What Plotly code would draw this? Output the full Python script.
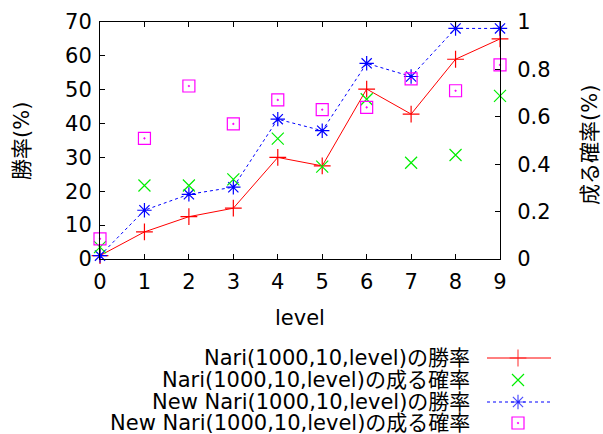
import plotly.graph_objects as go

# Data: win rate (%) and promotion probability per search level
levels = [0, 1, 2, 3, 4, 5, 6, 7, 8, 9]
nari_win = [1, 8, 12.5, 15, 30, 27.5, 50.2, 42.8, 59, 65]
nari_promote = [0.05, 0.31, 0.31, 0.336, 0.508, 0.39, 0.674, 0.406, 0.439, 0.688]
new_nari_win = [1, 14.4, 19.1, 21.2, 41.3, 37.9, 57.8, 53.9, 68.1, 68.1]
new_nari_promote = [0.085, 0.509, 0.73, 0.57, 0.671, 0.63, 0.64, 0.76, 0.71, 0.819]

series_names = [
    "Nari(1000,10,level)の勝率",
    "Nari(1000,10,level)の成る確率",
    "New Nari(1000,10,level)の勝率",
    "New Nari(1000,10,level)の成る確率",
]

W, H = 603, 434
FONT = "DejaVu Sans, Noto Sans CJK JP"
FS = 21

# plot box in pixels
X0, X1, Y0, Y1 = 100, 500, 22, 259

styles = [
    dict(color="#ff0000", symbol="cross-thin-open", mode="lines+markers", dash="solid"),
    dict(color="#00ee00", symbol="x-thin-open", mode="markers", dash="solid"),
    dict(color="#0000ff", symbol="asterisk-open", mode="lines+markers", dash="dot"),
    dict(color="#ff00ff", symbol="square-open-dot", mode="markers", dash="solid"),
]

fig = go.Figure()
data = [(nari_win, "y"), (nari_promote, "y2"), (new_nari_win, "y"), (new_nari_promote, "y2")]
for (vals, ax), st, name in zip(data, styles, series_names):
    fig.add_trace(go.Scatter(
        x=levels, y=vals, yaxis=ax, mode=st["mode"], name=name,
        line=dict(color=st["color"], width=1, dash=st["dash"]),
        marker=dict(symbol=st["symbol"], size=12, color=st["color"],
                    line=dict(color=st["color"], width=1.2)),
        cliponaxis=False, showlegend=False, hoverinfo="skip",
    ))

# gnuplot-style key: text on the left, sample on the right
key_y = [358, 380, 402, 423]
for name, st, ky in zip(series_names, styles, key_y):
    with_line = st["mode"] != "markers"
    fig.add_trace(go.Scatter(
        x=[487, 518, 551] if with_line else [518],
        y=[ky] * (3 if with_line else 1),
        xaxis="x3", yaxis="y3", mode=st["mode"],
        line=dict(color=st["color"], width=1, dash=st["dash"]),
        marker=dict(symbol=st["symbol"], size=[0, 12, 0] if with_line else 12,
                    color=st["color"], line=dict(color=st["color"], width=1.2)),
        cliponaxis=False, showlegend=False, hoverinfo="skip",
    ))
    fig.add_annotation(x=472 / W, y=1 - ky / H, xref="paper", yref="paper",
                       text=name, showarrow=False, xanchor="right", yanchor="middle",
                       font=dict(family=FONT, size=FS, color="black"))

axis_common = dict(showline=True, linecolor="black", linewidth=1, ticks="inside",
                   ticklen=5, tickcolor="black", showgrid=False, zeroline=False,
                   automargin=False,
                   tickfont=dict(family=FONT, size=FS, color="black"))

fig.update_layout(
    width=W, height=H,
    margin=dict(l=0, r=0, t=0, b=0, pad=0),
    paper_bgcolor="white", plot_bgcolor="rgba(0,0,0,0)",
    font=dict(family=FONT, size=FS, color="black"),
    xaxis=dict(domain=[X0 / W, X1 / W], range=[0, 9], tickvals=levels,
               mirror="ticks", ticklabelstandoff=4, **axis_common),
    yaxis=dict(domain=[1 - Y1 / H, 1 - Y0 / H], range=[0, 70], dtick=10,
               ticklabelstandoff=3, **axis_common),
    yaxis2=dict(overlaying="y", side="right", range=[0, 1], dtick=0.2,
                anchor="x", ticklabelstandoff=12, **axis_common),
    xaxis3=dict(domain=[0, 1], range=[0, W], visible=False, anchor="y3", automargin=False),
    yaxis3=dict(domain=[0, 1], range=[H, 0], visible=False, anchor="x3", automargin=False),
)

# axis titles
fig.add_annotation(x=300 / W, y=1 - 318 / H, xref="paper", yref="paper", text="level",
                   yanchor="middle", showarrow=False, font=dict(family=FONT, size=FS))
fig.add_annotation(x=22 / W, y=1 - 141 / H, xref="paper", yref="paper", text="勝率(%)",
                   xanchor="center", yanchor="middle",
                   textangle=-90, showarrow=False, font=dict(family=FONT, size=FS))
fig.add_annotation(x=590 / W, y=1 - 145 / H, xref="paper", yref="paper", text="成る確率(%)",
                   xanchor="center", yanchor="middle",
                   textangle=-90, showarrow=False, font=dict(family=FONT, size=FS))

fig.write_html("out.html")
